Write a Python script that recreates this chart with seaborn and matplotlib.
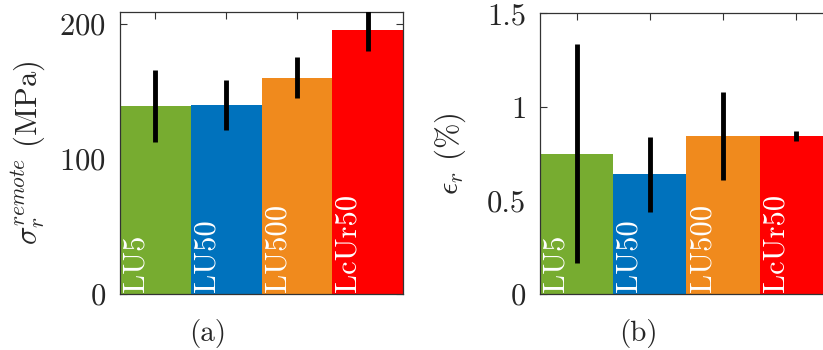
import numpy as np
import pandas as pd
import seaborn as sns
import matplotlib
matplotlib.use("Agg")
import matplotlib.pyplot as plt
from matplotlib.ticker import FormatStrFormatter

samples = ["LU5", "LU50", "LU500", "LcUr50"]
colors = ["#77AC30", "#0072BD", "#F08A1D", "#FF0000"]

stress_mean = [139.5, 140.3, 160.3, 196.0]
stress_err = [26.5, 18.4, 15.3, 16.0]

strain_mean = [0.75, 0.64, 0.843, 0.845]
strain_err = [0.586, 0.20, 0.234, 0.028]

sns.set_style("ticks")
plt.rcParams["font.family"] = ["cmr10"]
plt.rcParams["mathtext.fontset"] = "cm"
plt.rcParams["axes.formatter.use_mathtext"] = True

fig = plt.figure(figsize=(8.23, 3.5), dpi=100)
ax1 = fig.add_axes([0.1458, 0.16, 0.3439, 0.8057])
ax2 = fig.add_axes([0.6561, 0.16, 0.356, 0.802])


def panel(ax, means, errs, ylim, yticks, ylabel, pad):
    df = pd.DataFrame({"sample": samples, "value": means})
    sns.barplot(data=df, x="sample", y="value", hue="sample", palette=colors,
                width=1.0, errorbar=None, legend=False, ax=ax,
                linewidth=0, saturation=1)
    xs = ax.get_xticks()
    ax.errorbar(xs, means, yerr=errs, fmt="none", ecolor="black",
                elinewidth=3.5, capsize=0, zorder=5, clip_on=True)
    for x, name in zip(xs, samples):
        ax.text(x - 0.47, ylim[1] * 0.008, name, rotation=90, color="white",
                ha="left", va="bottom", fontsize=22)
    ax.set_xlim(-0.5, 3.5)
    ax.set_ylim(*ylim)
    ax.set_yticks(yticks)
    ax.set_xticklabels([])
    ax.set_xlabel("")
    ax.set_ylabel(ylabel, fontsize=22, labelpad=pad)
    ax.tick_params(direction="in", top=True, right=True, length=5,
                   width=0.8, labelsize=22, color="#333333")
    ax.tick_params(axis="y", pad=10)
    for s in ax.spines.values():
        s.set_visible(True)
        s.set_linewidth(0.9)
        s.set_color("#333333")


panel(ax1, stress_mean, stress_err, (0, 209), [0, 100, 200],
      r"$\sigma_r^{remote}$ (MPa)", 8)
panel(ax2, strain_mean, strain_err, (0, 1.5), [0, 0.5, 1, 1.5],
      r"$\epsilon_r$ (%)", 14)
ax2.yaxis.set_major_formatter(FormatStrFormatter("%g"))

fig.text(208 / 823, 1 - 333 / 350, "(a)", ha="center", va="center", fontsize=21)
fig.text(638 / 823, 1 - 333 / 350, "(b)", ha="center", va="center", fontsize=21)

fig.savefig("out.png", dpi=100)
